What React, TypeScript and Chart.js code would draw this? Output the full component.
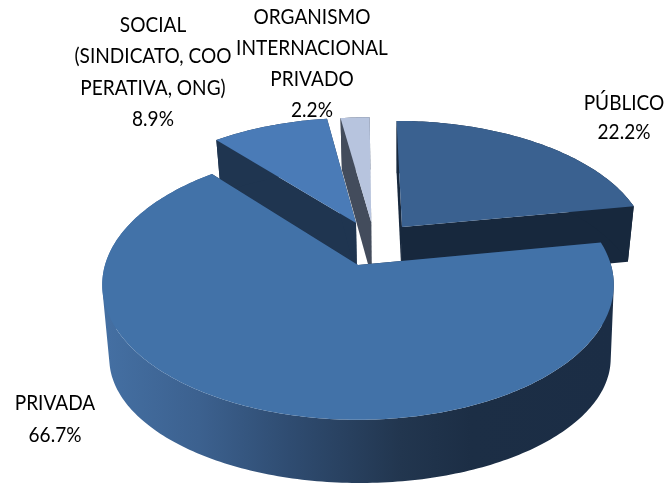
import React, { useEffect, useRef } from "react";
import { Chart, registerables } from "chart.js";

Chart.register(...registerables);

const categories = ["PÚBLICO", "PRIVADA", "SOCIAL", "ORGANISMO INTERNACIONAL PRIVADO"];
const shares = [22.2, 66.7, 8.9, 2.2];
const labelLines = [
  ["PÚBLICO"],
  ["PRIVADA"],
  ["SOCIAL", "(SINDICATO, COO", "PERATIVA, ONG)"],
  ["ORGANISMO", "INTERNACIONAL", "PRIVADO"],
];

// styling / layout of the 3D look
const topColors = ["#3A6190", "#4272A8", "#4A7BB7", "#B7C4DE"];
const wallColors = ["#17283D", "#1C2E47", "#1F3550", "#434C5C"];
const explode = [[0.1816, -0.3006], [0, 0], [-0.0083, -0.3337], [0.055, -0.34]];
const drawOrder = [3, 2, 0, 1];
const labelAnchors = [
  { x: 624, y: 103, gap: 29 },
  { x: 55, y: 403, gap: 32 },
  { x: 153, y: 25, gap: 31.5 },
  { x: 312, y: 17, gap: 31 },
];
const K = 0.147;
const TOP = { cx: 358, cy: 265, rx: 253, ry: 132 };
const BOTTOM = { cx: 359, cy: 322.6, rx: 246.7, ry: 136.8 };
const BOTTOM_FRONT = { cx: 360, cy: 340, rx: 248, ry: 122 };

type P = [number, number];
const project = (plane: typeof TOP, U: number, V: number): P => {
  const d = 1 - K * V;
  return [plane.cx + (plane.rx * U) / d, plane.cy + (plane.ry * V) / d];
};

const addPoly = (ctx: CanvasRenderingContext2D, pts: P[]) => {
  let area = 0;
  pts.forEach((p, i) => {
    const q = pts[(i + 1) % pts.length];
    area += p[0] * q[1] - q[0] * p[1];
  });
  const ordered = area < 0 ? pts.slice().reverse() : pts;
  ordered.forEach((p, i) => (i ? ctx.lineTo(p[0], p[1]) : ctx.moveTo(p[0], p[1])));
  ctx.closePath();
};

const fillPoly = (ctx: CanvasRenderingContext2D, pts: P[], fill: string | CanvasGradient) => {
  ctx.beginPath();
  addPoly(ctx, pts);
  ctx.fillStyle = fill;
  ctx.fill();
};

const pie3d = {
  id: "pie3d",
  beforeDatasetDraw(chart: any) {
    const ctx: CanvasRenderingContext2D = chart.ctx;
    const arcs = chart.getDatasetMeta(0).data;
    const side = ctx.createLinearGradient(108, 0, 612, 0);
    side.addColorStop(0, "#446FA2");
    side.addColorStop(0.18, "#3C618F");
    side.addColorStop(0.36, "#2F4C71");
    side.addColorStop(0.58, "#22364F");
    side.addColorStop(0.72, "#1C2E45");
    side.addColorStop(1, "#1B2D45");
    drawOrder.forEach((i) => {
      const a = arcs[i];
      const start = a.startAngle + Math.PI / 2;
      const end = a.endAngle + Math.PI / 2;
      const [ou, ov] = explode[i];
      const lower = i === 1 ? BOTTOM_FRONT : BOTTOM;
      const steps = Math.max(4, Math.ceil(((end - start) * 180) / Math.PI));
      const rimTop: P[] = [];
      const rimBottom: P[] = [];
      for (let s = 0; s <= steps; s++) {
        const t = start + ((end - start) * s) / steps;
        const U = ou + Math.sin(t);
        const V = ov - Math.cos(t);
        rimTop.push(project(TOP, U, V));
        rimBottom.push(project(lower, U, V));
      }
      const apexTop = project(TOP, ou, ov);
      const apexBottom = project(lower, ou, ov);
      const wall = wallColors[i];
      fillPoly(ctx, [apexTop, rimTop[0], rimBottom[0], apexBottom], wall);
      fillPoly(ctx, [apexTop, rimTop[steps], rimBottom[steps], apexBottom], wall);
      ctx.beginPath();
      for (let s = 0; s < steps; s++) {
        addPoly(ctx, [rimTop[s], rimTop[s + 1], rimBottom[s + 1], rimBottom[s]]);
      }
      ctx.fillStyle = i === 1 ? side : wall;
      ctx.fill("nonzero");
      fillPoly(ctx, [apexTop, ...rimTop], a.options.backgroundColor);
    });
    return false;
  },
  afterDraw(chart: any) {
    const ctx: CanvasRenderingContext2D = chart.ctx;
    ctx.save();
    ctx.font = "20.5px Lato";
    ctx.fillStyle = "#000";
    ctx.textAlign = "center";
    ctx.textBaseline = "middle";
    labelLines.forEach((lines, i) => {
      const { x, y, gap } = labelAnchors[i];
      [...lines, shares[i].toFixed(1) + "%"].forEach((line, j) => {
        ctx.save();
        ctx.translate(x, y + j * gap);
        ctx.scale(0.93, 1);
        ctx.fillText(line, 0, 0);
        ctx.restore();
      });
    });
    ctx.restore();
  },
};

export default function App() {
  const ref = useRef<HTMLCanvasElement>(null);
  useEffect(() => {
    document.body.style.margin = "0";
    const chart = new Chart(ref.current as HTMLCanvasElement, {
      type: "pie",
      data: {
        labels: categories,
        datasets: [{ data: shares, backgroundColor: topColors, borderWidth: 0 }],
      },
      options: {
        responsive: false,
        animation: false,
        plugins: { legend: { display: false }, tooltip: { enabled: false } },
      },
      plugins: [pie3d],
    } as any);
    return () => chart.destroy();
  }, []);
  return <canvas ref={ref} width={666} height={484} style={{ display: "block" }} />;
}
